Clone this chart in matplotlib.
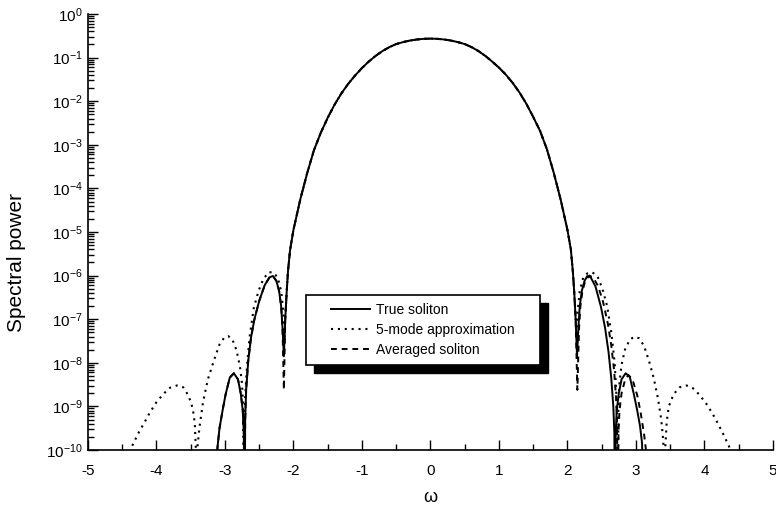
import numpy as np
import matplotlib.pyplot as plt
from matplotlib.patches import Rectangle
from matplotlib.transforms import IdentityTransform
from matplotlib.ticker import LogLocator, MultipleLocator, NullFormatter

plt.rcParams['font.family'] = ['Liberation Sans', 'DejaVu Sans']
plt.rcParams['mathtext.fontset'] = 'custom'
plt.rcParams['mathtext.rm'] = 'Liberation Sans'
plt.rcParams['mathtext.it'] = 'Liberation Sans:italic'
plt.rcParams['axes.unicode_minus'] = False

# values: omega and the decade exponent of the spectral power
# (points at -12 are the nulls, they sit below the bottom of the axis)

# central lobe, shared by all three curves
main_omega = [-2.12, -2.10, -2.08, -2.05, -2.00, -1.90, -1.80, -1.70, -1.60, -1.50,
              -1.40, -1.30, -1.20, -1.10, -1.00, -0.90, -0.80, -0.70, -0.60, -0.50,
              -0.40, -0.30, -0.20, -0.10, 0.00, 0.10, 0.20, 0.30, 0.40, 0.50,
              0.60, 0.70, 0.80, 0.90, 1.00, 1.10, 1.20, 1.30, 1.40, 1.50,
              1.60, 1.70, 1.80, 1.90, 2.00, 2.05, 2.08, 2.10, 2.12]
main_exp = [-7.0, -6.4, -5.9, -5.42, -4.95, -4.25, -3.65, -3.12, -2.72, -2.38,
            -2.08, -1.82, -1.60, -1.41, -1.24, -1.09, -0.96, -0.85, -0.76, -0.69,
            -0.645, -0.61, -0.585, -0.57, -0.565, -0.57, -0.585, -0.61, -0.645, -0.69,
            -0.76, -0.85, -0.96, -1.09, -1.23, -1.39, -1.58, -1.80, -2.06, -2.36,
            -2.68, -3.10, -3.64, -4.25, -4.95, -5.40, -5.92, -6.4, -7.0]

# true soliton side lobes
true_left_omega = [-3.13, -3.11, -3.08, -3.03, -2.99, -2.93, -2.87, -2.81, -2.77, -2.74,
                   -2.725, -2.715, -2.705, -2.69, -2.66, -2.62, -2.57, -2.50, -2.42, -2.35,
                   -2.30, -2.25, -2.21, -2.18, -2.16, -2.14]
true_left_exp = [-12, -9.95, -9.5, -9.05, -8.72, -8.34, -8.24, -8.38, -8.7, -9.1,
                 -9.6, -12, -9.3, -8.6, -7.95, -7.42, -7.0, -6.58, -6.22, -6.04,
                 -6.01, -6.12, -6.35, -6.7, -7.2, -7.85]
true_right_omega = [2.14, 2.16, 2.18, 2.21, 2.25, 2.29, 2.34, 2.41, 2.49, 2.55,
                    2.60, 2.64, 2.67, 2.685, 2.695, 2.705, 2.72, 2.75, 2.79, 2.85,
                    2.91, 2.97, 3.02, 3.06, 3.09, 3.11]
true_right_exp = [-7.85, -7.2, -6.7, -6.35, -6.12, -6.01, -6.04, -6.25, -6.72, -7.2,
                  -7.75, -8.35, -9.0, -9.6, -12, -9.6, -9.1, -8.7, -8.38, -8.24,
                  -8.32, -8.72, -9.1, -9.45, -9.85, -12]

# averaged soliton side lobes
avg_left_omega = [-3.13, -3.11, -3.08, -3.03, -2.99, -2.93, -2.87, -2.81, -2.77, -2.74,
                  -2.725, -2.715, -2.705, -2.69, -2.66, -2.62, -2.57, -2.50, -2.42, -2.35,
                  -2.30, -2.25, -2.21, -2.18, -2.16, -2.14]
avg_left_exp = [-12, -9.95, -9.5, -9.05, -8.72, -8.34, -8.24, -8.38, -8.7, -9.1,
                -9.6, -12, -9.3, -8.6, -7.95, -7.42, -7.0, -6.58, -6.22, -6.04,
                -6.01, -6.12, -6.35, -6.7, -7.2, -8.62]
avg_right_omega = [2.145, 2.17, 2.19, 2.22, 2.26, 2.32, 2.38, 2.45, 2.52, 2.59,
                   2.64, 2.68, 2.71, 2.725, 2.735, 2.745, 2.76, 2.79, 2.84, 2.89,
                   2.95, 3.02, 3.07, 3.12, 3.15, 3.165]
avg_right_exp = [-8.62, -7.2, -6.7, -6.35, -6.12, -6.0, -6.05, -6.25, -6.6, -7.1,
                 -7.6, -8.15, -8.8, -9.4, -12, -9.6, -9.1, -8.7, -8.4, -8.28,
                 -8.38, -8.75, -9.15, -9.65, -10.05, -12]

# 5-mode approximation side lobes
mode_left_omega = [-4.42, -4.35, -4.26, -4.18, -4.10, -4.00, -3.89, -3.80, -3.70, -3.61,
                   -3.53, -3.47, -3.44, -3.425, -3.415, -3.40, -3.37, -3.32, -3.25, -3.16,
                   -3.08, -3.01, -2.95, -2.89, -2.83, -2.78, -2.75, -2.735, -2.725, -2.71,
                   -2.68, -2.64, -2.58, -2.51, -2.44, -2.36, -2.29, -2.23, -2.18, -2.15,
                   -2.13]
mode_left_exp = [-10.2, -9.89, -9.6, -9.38, -9.15, -8.9, -8.7, -8.57, -8.52, -8.56,
                 -8.76, -9.05, -9.4, -10.0, -12, -9.9, -9.45, -8.9, -8.38, -7.94,
                 -7.58, -7.42, -7.39, -7.47, -7.72, -8.1, -8.5, -9.0, -12, -8.9,
                 -8.1, -7.4, -6.75, -6.35, -6.08, -5.92, -5.93, -6.05, -6.35, -6.8,
                 -7.4]
mode_right_omega = [2.13, 2.15, 2.18, 2.23, 2.29, 2.36, 2.44, 2.51, 2.58, 2.64,
                    2.69, 2.72, 2.735, 2.745, 2.76, 2.79, 2.84, 2.91, 2.98, 3.05,
                    3.12, 3.19, 3.26, 3.32, 3.37, 3.40, 3.415, 3.43, 3.45, 3.48,
                    3.55, 3.64, 3.74, 3.83, 3.92, 4.02, 4.12, 4.20, 4.28, 4.36,
                    4.42]
mode_right_exp = [-7.4, -6.8, -6.35, -6.05, -5.95, -5.92, -6.02, -6.3, -6.7, -7.3,
                  -8.0, -8.9, -12, -8.9, -8.45, -8.05, -7.7, -7.47, -7.4, -7.44,
                  -7.62, -7.95, -8.35, -8.8, -9.3, -9.8, -12, -9.9, -9.35, -9.0,
                  -8.72, -8.56, -8.52, -8.58, -8.72, -8.92, -9.17, -9.4, -9.65, -9.92,
                  -10.2]

labels = ['True soliton', '5-mode approximation', 'Averaged soliton']

#join the pieces of each curve
true_w = true_left_omega + main_omega + true_right_omega
true_p = 10.0 ** np.array(true_left_exp + main_exp + true_right_exp)
mode_w = mode_left_omega + main_omega + mode_right_omega
mode_p = 10.0 ** np.array(mode_left_exp + main_exp + mode_right_exp)
avg_w = avg_left_omega + main_omega + avg_right_omega
avg_p = 10.0 ** np.array(avg_left_exp + main_exp + avg_right_exp)

fig = plt.figure(figsize=(7.76, 5.14), dpi=100)
ax = fig.add_axes([0.1134, 0.1245, 0.8826, 0.8483])

l1, = ax.semilogy(true_w, true_p, color='k', lw=1.4, ls='-')
l2, = ax.semilogy(mode_w, mode_p, color='k', lw=1.5, ls=(0, (1, 2.3)))
l3, = ax.semilogy(avg_w, avg_p, color='k', lw=1.4, ls=(0, (3, 2.5)))

ax.set_xlim(-5, 5)
ax.set_ylim(1e-10, 1)

for side in ['top', 'right']:
    ax.spines[side].set_visible(False)
for side in ['left', 'bottom']:
    ax.spines[side].set_linewidth(1.2)

ax.xaxis.set_major_locator(MultipleLocator(1))
ax.xaxis.set_minor_locator(MultipleLocator(0.5))
ax.yaxis.set_major_locator(LogLocator(base=10, numticks=15))
ax.yaxis.set_minor_locator(LogLocator(base=10, subs=np.arange(2, 10), numticks=15))
ax.yaxis.set_minor_formatter(NullFormatter())

ax.tick_params(which='both', direction='in', top=False, right=False, width=1)
ax.tick_params(which='major', length=7)
ax.tick_params(which='minor', length=4)
ax.tick_params(axis='x', which='major', labelsize=11, pad=10)
ax.tick_params(axis='y', which='major', labelsize=11, pad=4)

ax.set_xlabel('ω', fontsize=13, labelpad=8)
ax.set_ylabel('Spectral power', fontsize=15)
ax.yaxis.set_label_coords(-0.09, 0.43)

leg = ax.legend([l1, l2, l3], labels, loc='center', bbox_to_anchor=(0.545, 0.358),
                bbox_transform=fig.transFigure, frameon=False, fontsize=10,
                handlelength=2.8, handletextpad=0.45, labelspacing=0.45, borderpad=0.5)
leg.set_zorder(5)

#draw the box and the black drop shadow by hand
fig.canvas.draw()
bb = leg.get_window_extent()
padx, pady = 18, 1
x0, y0 = bb.x0 - padx, bb.y0 - pady
w, h = bb.width + 2 * padx, bb.height + 2 * pady
shadow = Rectangle((x0 + 8, y0 - 8), w, h, transform=IdentityTransform(),
                   facecolor='k', edgecolor='k', zorder=4, clip_on=False)
frame = Rectangle((x0, y0), w, h, transform=IdentityTransform(),
                  facecolor='white', edgecolor='k', lw=1.2, zorder=4.5, clip_on=False)
ax.add_artist(shadow)
ax.add_artist(frame)

fig.savefig('out.png', dpi=100)
